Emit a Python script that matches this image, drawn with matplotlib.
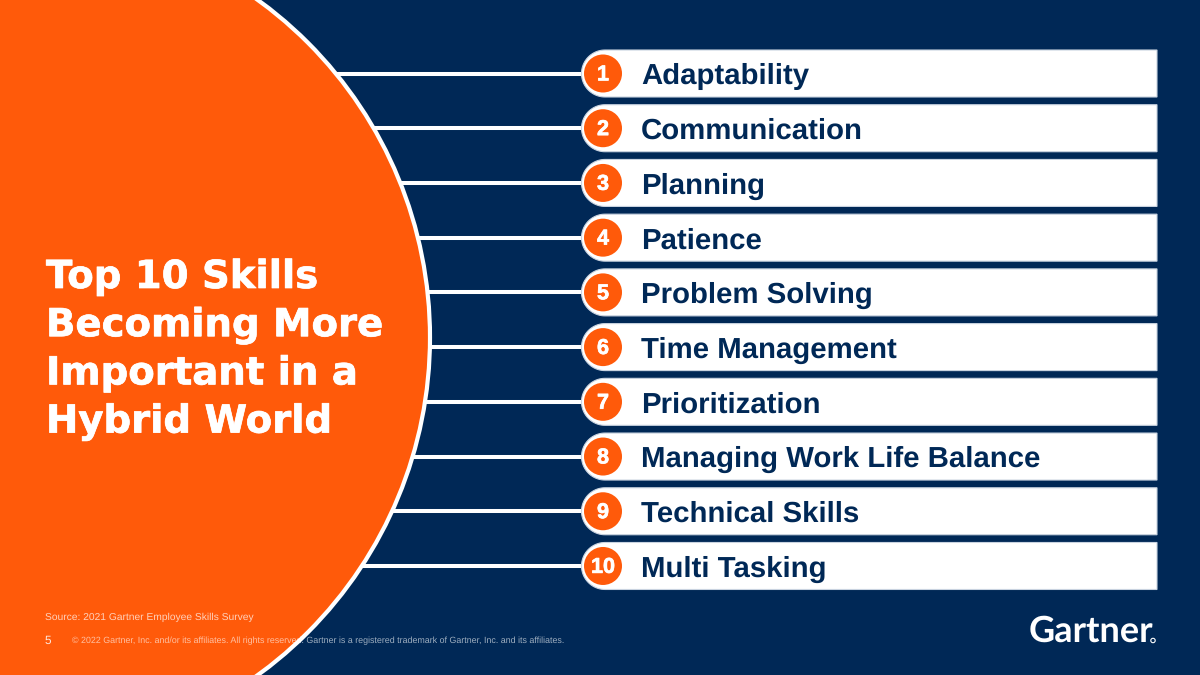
import numpy as np
import matplotlib
matplotlib.use("Agg")
import matplotlib.pyplot as plt
import matplotlib.patheffects as pe
from matplotlib.patches import Circle, Polygon

plt.rcParams["text.hinting"] = "no_hinting"

ranks = ["1", "2", "3", "4", "5", "6", "7", "8", "9", "10"]
skills = ["Adaptability", "Communication", "Planning", "Patience", "Problem Solving",
          "Time Management", "Prioritization", "Managing Work Life Balance",
          "Technical Skills", "Multi Tasking"]
title_lines = ["Top 10 Skills", "Becoming More", "Important in a", "Hybrid World"]
source_text = "Source: 2021 Gartner Employee Skills Survey"
page_number = "5"
copyright_text = ("\u00a9 2022 Gartner, Inc. and/or its affiliates. All rights reserved. "
                  "Gartner is a registered trademark of Gartner, Inc. and its affiliates.")
logo_text = "Gartner"

NAVY = "#002856"
ORANGE = "#FF5A0A"
WHITE = "#FFFFFF"
SANS = "Liberation Sans"

fig = plt.figure(figsize=(12, 6.75), dpi=100, facecolor=NAVY)
ax = fig.add_axes([0, 0, 1, 1])
ax.set_xlim(0, 1200)
ax.set_ylim(675, 0)
ax.axis("off")

row_first, row_pitch, row_half = 73.5, 54.72, 23.5
box_right, box_left, badge_x = 1157, 581.5, 604
cx, cy, r = 13, 337.5, 417

for i, (rank, skill) in enumerate(zip(ranks, skills)):
    y = row_first + i * row_pitch
    ax.plot([300, box_left + 5], [y, y], color=WHITE, lw=2.9, solid_capstyle="butt", zorder=1)
    t = np.linspace(np.pi / 2, 3 * np.pi / 2, 40)
    pts = np.column_stack([box_left + row_half + row_half * np.cos(t), y + row_half * np.sin(t)])
    pts = np.vstack([pts, [box_right, y - row_half], [box_right, y + row_half]])
    ax.add_patch(Polygon(pts, closed=True, facecolor=WHITE, edgecolor="#C9D3E0", lw=0.8, zorder=2))
    ax.add_patch(Circle((badge_x - 1, y), 19, facecolor=ORANGE, edgecolor="none", zorder=3))
    ax.text(badge_x - 1, y + 1.2, rank, color=WHITE, family=SANS, weight="bold", fontsize=15.5,
            ha="center", va="center", zorder=4,
            path_effects=[pe.withStroke(linewidth=0.5, foreground=WHITE)])
    ax.text(641, y + 10.8, skill, color=NAVY, family=SANS, weight="bold", fontsize=21.2,
            ha="left", va="baseline", zorder=4)

ax.add_patch(Circle((cx, cy), r, facecolor=ORANGE, edgecolor=WHITE, lw=3, zorder=5))

for i, line in enumerate(title_lines):
    ax.text(46, 288 + i * 48.2, line, color=WHITE, family="DejaVu Sans", weight="bold",
            fontsize=27.8, ha="left", va="baseline", zorder=6,
            path_effects=[pe.withStroke(linewidth=0.5, foreground=WHITE)])

ax.text(45, 620, source_text, color=WHITE, alpha=0.72, family=SANS, fontsize=7.4,
        ha="left", va="baseline", zorder=6)
ax.text(45, 644, page_number, color=WHITE, alpha=0.85, family=SANS, fontsize=8.5,
        ha="left", va="baseline", zorder=6)
ax.text(72, 643, copyright_text, color=WHITE, alpha=0.62, family=SANS, fontsize=6.4,
        ha="left", va="baseline", zorder=6)

ax.text(1029, 642, logo_text, color=WHITE, family="Lato", weight="bold", fontsize=26,
        ha="left", va="baseline", zorder=6)
ax.add_patch(Circle((1153, 640.5), 2.2, facecolor="none", edgecolor=WHITE, lw=0.8, zorder=6))

fig.savefig("out.png", dpi=100, facecolor=NAVY)
